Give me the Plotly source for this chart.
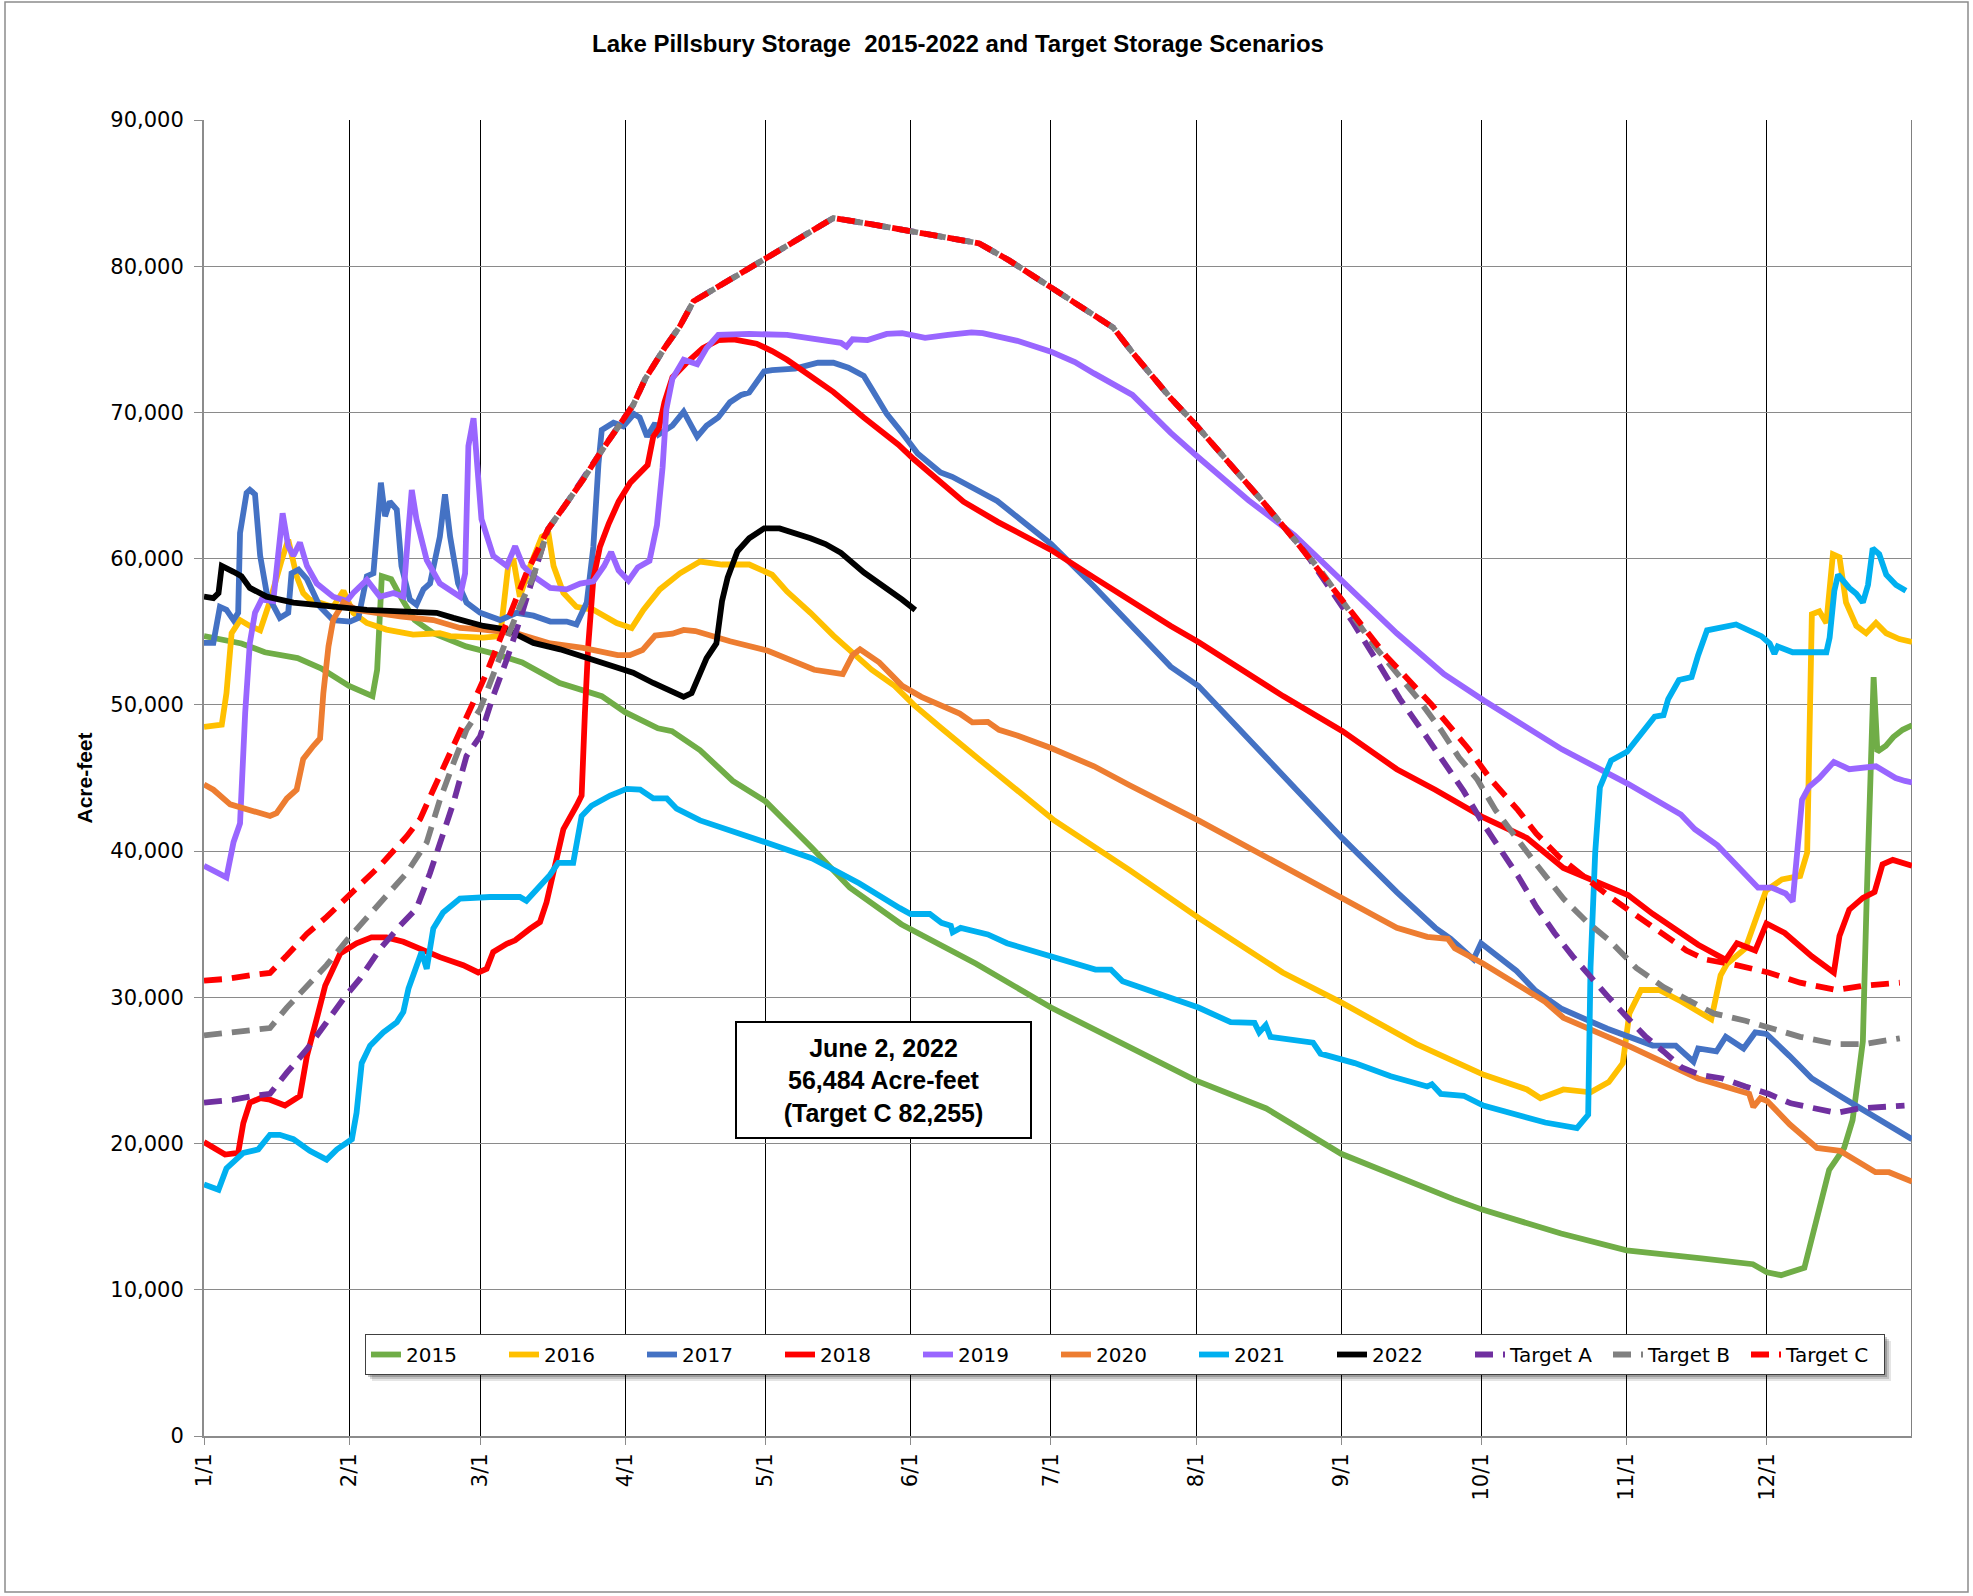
import plotly.graph_objects as go

# ---------------- data (day of year 0..365, acre-feet) ----------------
month_days = [0, 31, 59, 90, 120, 151, 181, 212, 243, 273, 304, 334]
month_labels = ["1/1", "2/1", "3/1", "4/1", "5/1", "6/1", "7/1", "8/1", "9/1", "10/1", "11/1", "12/1"]

d2015 = [0, 8, 13, 20, 25, 31, 36, 37, 38, 40, 42, 45, 49, 56, 62, 68, 76, 85, 90, 97, 100, 106, 113, 120, 130, 138, 149, 165, 181, 197, 212, 227, 243, 267, 273, 290, 304, 320, 331, 334, 337, 342, 344.5, 347.3, 350.5, 352.3, 353.5, 354.5, 355.3, 356.2, 356.8, 357.6, 359.4, 361, 363, 365]
v2015 = [54700, 54200, 53600, 53200, 52500, 51300, 50600, 52400, 58800, 58600, 57400, 55800, 54900, 54000, 53500, 52900, 51500, 50600, 49500, 48400, 48200, 46900, 44800, 43400, 40200, 37500, 35000, 32300, 29300, 26700, 24300, 22400, 19300, 16200, 15500, 13850, 12700, 12150, 11750, 11200, 11000, 11500, 14600, 18200, 19700, 21600, 24500, 27000, 36600, 48000, 51900, 46800, 47200, 47800, 48300, 48600]

d2016 = [0, 3.8, 4.8, 5.9, 7.7, 9.8, 12, 14, 16.5, 18, 19.8, 21.2, 22.6, 27.6, 29.8, 31.9, 34.8, 39, 44.7, 50.4, 52.6, 59.7, 63.3, 64.3, 65, 66.1, 67.5, 69.7, 72.2, 73.6, 74.7, 76.8, 79.6, 83.2, 88.2, 91.4, 93.9, 97.4, 101.7, 106, 110.7, 116.5, 121.4, 124.6, 129.6, 134.5, 139.4, 142.7, 147.6, 151.7, 157.4, 162.3, 166.7, 181.7, 197.8, 212.7, 230.5, 243.3, 259.1, 273.5, 282.7, 285.6, 290.5, 296.3, 300.2, 303.2, 304.6, 307.1, 311, 315.8, 319.7, 322.1, 324.1, 325.5, 329.4, 331.4, 333.8, 337.2, 341.1, 342.6, 343.6, 345.2, 346.7, 348.1, 349.5, 350.9, 353.1, 355.2, 357.3, 359.5, 362.3, 365]
v2016 = [48500, 48650, 50800, 54900, 55800, 55400, 55100, 57000, 59800, 61300, 58800, 57650, 57200, 56700, 57800, 56300, 55600, 55150, 54800, 54900, 54700, 54600, 54700, 57650, 59500, 60000, 57400, 59500, 61500, 61750, 59500, 57650, 56700, 56500, 55600, 55250, 56500, 57900, 59000, 59800, 59600, 59600, 58900, 57750, 56300, 54740, 53400, 52400, 51300, 50000, 48450, 47100, 46000, 42100, 38700, 35400, 31700, 29600, 26800, 24700, 23700, 23100, 23700, 23500, 24200, 25500, 28900, 30500, 30500, 29700, 28900, 28500, 31500, 32300, 33350, 35200, 37300, 38060, 38300, 39900, 56200, 56400, 55600, 60300, 60100, 57000, 55400, 54900, 55600, 54900, 54500, 54300]

d2017 = [0, 2, 3.4, 4.8, 6.3, 7.3, 7.7, 9.1, 9.8, 10.9, 12, 13.4, 16.2, 18, 18.7, 20.2, 22, 24.8, 27.6, 31.2, 33, 34.8, 36.2, 37.2, 37.8, 38.7, 39.7, 41.2, 42.2, 44, 45.4, 46.9, 48.3, 50.4, 51.5, 52.6, 54.3, 56.1, 59, 63.3, 66.8, 70.4, 74, 77.5, 79.6, 81.8, 83.2, 84.3, 85, 87.5, 89.6, 91.9, 93.1, 94.7, 96.4, 97.2, 100.1, 102.5, 105.4, 107.4, 109.9, 112.4, 114.8, 116.5, 119.7, 121.4, 126.3, 131.2, 134.5, 137.7, 141, 142.7, 145.9, 149.2, 152.5, 157.4, 159.9, 169.5, 181, 190.2, 198.4, 206.6, 212.5, 230.6, 243.3, 254.9, 263.1, 266.4, 271.3, 272.9, 280.5, 284.4, 290.2, 299.9, 309.6, 314.5, 318.3, 319.3, 323.2, 325.2, 329, 331.5, 333.9, 338.8, 343.6, 350.4, 358.2, 365]
v2017 = [54240, 54240, 56700, 56500, 55800, 56300, 61750, 64500, 64700, 64400, 60200, 57650, 55950, 56300, 59000, 59250, 58600, 56700, 55800, 55700, 55950, 58800, 59000, 63600, 65200, 62900, 63900, 63350, 59500, 57200, 56850, 57900, 58300, 61500, 64400, 61500, 58300, 57000, 56300, 55800, 56300, 56100, 55700, 55700, 55500, 57000, 60800, 66500, 68800, 69300, 69050, 69900, 69660, 68350, 69270, 68500, 69100, 70050, 68350, 69100, 69660, 70700, 71200, 71360, 72800, 72900, 73000, 73400, 73400, 73060, 72500, 71600, 69900, 68600, 67200, 65900, 65600, 63950, 61000, 58100, 55300, 52600, 51300, 45100, 40870, 37200, 34760, 34000, 32600, 33700, 31800, 30500, 29200, 27850, 26700, 26700, 25600, 26500, 26300, 27300, 26500, 27600, 27500, 26000, 24450, 23100, 21600, 20300]

d2018 = [0, 4.5, 7.3, 8.4, 9.8, 12, 14.1, 17.3, 20.5, 22, 23.7, 25.9, 29.1, 32.6, 35.8, 39, 42.6, 46.2, 50.4, 55.4, 58.6, 60.4, 61.8, 64.7, 66.5, 69.7, 71.8, 73.2, 74.6, 76.8, 79.6, 80.7, 81.4, 82.1, 83.2, 84.6, 86.5, 88.6, 91.1, 94.8, 96, 97.2, 98.4, 100.1, 103.3, 106.6, 109.9, 113.2, 118.1, 121.4, 124.6, 129.6, 134.5, 141, 148.4, 151.7, 157.4, 162.3, 169.7, 181, 190.2, 198.4, 206.6, 212.5, 230.6, 243.3, 254.9, 263.1, 273.4, 282.7, 290.5, 304.3, 309.6, 319.3, 325.2, 327.6, 331.5, 333.9, 337.8, 343.6, 348.3, 349.5, 351.6, 354.5, 357, 358.7, 360.9, 365]
v2018 = [20100, 19250, 19360, 21400, 22800, 23100, 23000, 22600, 23250, 26000, 28050, 30800, 33000, 33700, 34100, 34100, 33800, 33300, 32750, 32200, 31700, 31950, 33100, 33660, 33900, 34700, 35150, 36500, 38600, 41500, 43100, 43800, 49450, 54000, 58600, 60800, 62400, 63900, 65200, 66400, 68350, 68900, 70700, 72400, 73450, 74400, 74950, 75000, 74700, 74200, 73600, 72500, 71400, 69660, 67800, 66800, 65200, 63900, 62500, 60600, 58700, 57000, 55400, 54300, 50600, 48200, 45600, 44200, 42300, 40900, 38850, 37000, 35700, 33600, 32560, 33700, 33200, 35050, 34400, 32800, 31700, 34200, 36000, 36800, 37200, 39100, 39400, 39000]

d2019 = [0, 4.8, 6.3, 7.7, 8.8, 9.8, 10.9, 12.3, 14.8, 16.2, 16.8, 18, 19.1, 20.5, 22, 24.1, 27.6, 30.5, 31.9, 34.8, 37.6, 40.5, 42.6, 43.7, 44.4, 45.4, 47.6, 50.4, 54.7, 55.8, 56.5, 57.6, 58.3, 59.3, 61.8, 64.7, 66.5, 68.2, 70.4, 74, 77.5, 80.4, 83.2, 85.5, 87, 88.6, 90.7, 92.7, 95.2, 96.8, 98, 98.8, 100.1, 102.5, 105.4, 107.4, 109.9, 116.5, 124.6, 132.8, 136.1, 137.3, 138.6, 141.8, 145.9, 149.2, 154.1, 159, 164, 166.4, 173.8, 181, 186.1, 190.2, 198.4, 202.5, 206.6, 212.1, 223.2, 233, 243.3, 254.9, 265, 273.5, 290.2, 304.3, 315.6, 318.6, 323.4, 327.3, 332.1, 335, 338, 339.5, 341.5, 343, 345.2, 348.3, 351.6, 357.3, 361.5, 363.5, 365]
v2019 = [39000, 38200, 40600, 41900, 49450, 54240, 56300, 57200, 57100, 61300, 63100, 60850, 60200, 61100, 59500, 58300, 57400, 57100, 57650, 58550, 57400, 57650, 57400, 62000, 64700, 62700, 59900, 58300, 57400, 59000, 67700, 69600, 66300, 62700, 60200, 59500, 60850, 59500, 58800, 58000, 57900, 58300, 58450, 59500, 60450, 59200, 58500, 59400, 59850, 62300, 66250, 70200, 72300, 73600, 73300, 74400, 75300, 75370, 75300, 74950, 74760, 74500, 75000, 74950, 75370, 75420, 75100, 75300, 75470, 75420, 74900, 74160, 73450, 72670, 71200, 69900, 68600, 67040, 64000, 61600, 58500, 54900, 52100, 50300, 46960, 44600, 42500, 41500, 40400, 39100, 37500, 37500, 37100, 36550, 43500, 44400, 45000, 46100, 45600, 45800, 45000, 44800, 44700]

d2020 = [0, 2, 5.6, 9.8, 14.1, 15.5, 17.7, 19.8, 21.2, 23.4, 24.8, 25.5, 26.6, 27.6, 29.8, 32.6, 36.2, 41.9, 49, 54.7, 59.7, 66.8, 74, 81, 88.4, 91, 93.7, 96.4, 100.1, 102.5, 105, 112.4, 120.5, 126.3, 130.4, 136.5, 138.6, 140.2, 144.3, 149.2, 153.3, 161.5, 164.2, 167.5, 169.9, 173.8, 181, 190.2, 197.8, 212.7, 226.5, 243.5, 254.9, 261.4, 265.8, 267.3, 273.4, 286.6, 290.5, 304.3, 319.3, 330.2, 331.1, 332.6, 334.1, 338.9, 344.7, 349.6, 353.3, 357.2, 360.1, 365]
v2020 = [44560, 44200, 43200, 42850, 42400, 42600, 43600, 44200, 46300, 47200, 47700, 50800, 54000, 55800, 57000, 56500, 56300, 56060, 55800, 55260, 55150, 54900, 54200, 53900, 53400, 53400, 53750, 54740, 54870, 55130, 55050, 54350, 53700, 53000, 52400, 52100, 53400, 53800, 52900, 51300, 50550, 49400, 48800, 48840, 48300, 47900, 47050, 45800, 44500, 42070, 39680, 36700, 34760, 34140, 34000, 33350, 32300, 29700, 28600, 26700, 24450, 23400, 22500, 23100, 22900, 21300, 19700, 19500, 18800, 18040, 18040, 17400]

d2021 = [0, 3.1, 4.8, 8.4, 11.6, 14.1, 16.2, 19.1, 22.6, 26.2, 28.4, 31.6, 32.6, 33.7, 35.5, 38.3, 41.2, 42.6, 43.7, 45.4, 46.5, 47.6, 49, 51.1, 54.7, 61.1, 67.5, 68.9, 71.1, 73.9, 75.7, 78.9, 80.7, 82.8, 86.8, 90.3, 93.2, 96, 98.9, 101, 106, 110, 120, 130, 140, 148.7, 151, 155.1, 157.6, 159.6, 160, 161.7, 167.5, 171.6, 181, 190.5, 193.8, 196.3, 212.5, 219.4, 224.5, 225.5, 226.9, 227.9, 237, 238.6, 245.9, 253.6, 261.4, 262.4, 264.3, 269.2, 273.4, 280.8, 286.6, 293.4, 295.8, 296.3, 297.3, 298.3, 300.7, 304.1, 306.1, 308.5, 310, 311.9, 312.9, 315.2, 317.9, 319.3, 321.2, 327.4, 332.8, 334.6, 335.6, 336.3, 339.5, 346.7, 347.4, 348.4, 349.2, 351.6, 353.1, 354.5, 355.6, 356.6, 358, 359.5, 361.6, 363.7]
v2021 = [17200, 16840, 18300, 19360, 19600, 20600, 20600, 20300, 19500, 18900, 19600, 20300, 22100, 25500, 26700, 27600, 28300, 29000, 30600, 32200, 33100, 31950, 34700, 35800, 36750, 36860, 36860, 36600, 37400, 38350, 39200, 39200, 42400, 43100, 43800, 44260, 44200, 43600, 43600, 42900, 42100, 41700, 40600, 39500, 37800, 36100, 35700, 35700, 35100, 34900, 34450, 34750, 34300, 33700, 32800, 31900, 31900, 31100, 29300, 28300, 28250, 27600, 28100, 27300, 26900, 26150, 25500, 24600, 23900, 24050, 23400, 23270, 22600, 22000, 21440, 21050, 21970, 32040, 39900, 44350, 46200, 46800, 47600, 48500, 49200, 49300, 50400, 51700, 51900, 53400, 55100, 55500, 54700, 54200, 53500, 54000, 53600, 53600, 54600, 57800, 58900, 58000, 57600, 57000, 58200, 60700, 60300, 58900, 58200, 57800]

d2022 = [0, 2, 3.1, 3.8, 6.3, 8, 9.8, 13.4, 19.1, 27.6, 34.8, 41.9, 49.7, 53.3, 59.7, 64.7, 70.4, 76.1, 81, 88.2, 91.7, 96, 98.9, 102.5, 104.2, 105.8, 107.4, 109.5, 110.7, 111.9, 114, 116.5, 119.7, 123, 127.1, 129.6, 132.8, 136.1, 141, 145.9, 149.2, 152]
v2022 = [57400, 57300, 57650, 59500, 59100, 58800, 58000, 57400, 57000, 56700, 56500, 56400, 56300, 55950, 55400, 55150, 54240, 53800, 53300, 52600, 52200, 51500, 51050, 50550, 50800, 52100, 53200, 54200, 57100, 58700, 60500, 61400, 62070, 62070, 61700, 61400, 61000, 60400, 59060, 58000, 57200, 56484]

# Target scenarios: spring fill (separate), shared summer path, autumn draw-down (separate)
dA_spring = [0, 6.3, 10.5, 14.1, 17.7, 22, 26.2, 29.8, 33.3, 37.6, 41.9, 45.4, 48.3, 50.4, 53.3, 56.1, 59, 61.8, 64.7, 67.5, 70.4]
vA_spring = [22800, 23000, 23250, 23400, 24850, 26450, 28300, 29900, 31260, 33300, 34900, 36060, 38500, 40600, 43300, 46500, 47850, 50600, 53100, 55800, 58800]
dB_spring = [0, 6.3, 10.5, 14.1, 17.7, 22, 26.2, 30.5, 34.8, 39, 43.3, 47.6, 50.4, 53.3, 56.1, 59, 61.8, 64.7, 67.5, 70.4]
vB_spring = [27400, 27600, 27700, 27900, 29300, 30800, 32200, 33900, 35400, 37000, 38500, 40600, 43500, 46000, 48300, 49700, 52200, 54500, 56750, 58800]
dC_spring = [0, 4.8, 9.8, 14.1, 17.7, 22, 26.2, 29.8, 33.3, 37.6, 43.3, 46.2, 49, 51.9, 54.7, 58.3, 60.4, 63.3, 66.1, 68.9]
vC_spring = [31140, 31260, 31500, 31670, 32860, 34350, 35500, 36600, 37800, 39000, 41000, 42200, 44200, 46300, 48100, 50700, 52200, 54500, 56700, 59000]

d_target_common = [73.5, 77.5, 81, 84.6, 88.2, 91.7, 94.3, 98.4, 101.7, 104.6, 108.3, 113.2, 118.1, 124.6, 129.6, 134.5, 141, 151.1, 157.4, 165.6, 172.1, 181, 190.2, 194.3, 198.4, 202.5, 206.6, 212.1, 219, 226]
v_target_common = [62000, 63800, 65400, 67200, 68900, 70500, 72300, 74400, 75900, 77600, 78300, 79200, 80100, 81400, 82360, 83300, 82960, 82360, 81960, 81570, 80390, 78560, 76700, 75800, 74100, 72500, 70970, 69100, 66600, 64000]

dA_fall = [235.4, 245.2, 251.8, 255.6, 261.4, 265.3, 269.2, 273.1, 277, 280.8, 284.7, 288.6, 292.5, 296.4, 300.3, 304.2, 308.1, 311.9, 315.8, 319.7, 324.5, 329.4, 334.3, 339.1, 344, 348.8, 353.7, 363.4]
vA_fall = [60400, 55800, 52400, 50400, 47750, 45900, 44100, 42000, 40200, 38300, 36200, 34400, 32800, 31300, 29950, 28600, 27300, 26300, 25200, 24700, 24450, 23900, 23400, 22750, 22400, 22100, 22400, 22600]
dB_fall = [238.8, 250.2, 259.5, 264.3, 268.2, 272.1, 276, 280.8, 284.7, 290.5, 295.4, 300.3, 306.1, 311.9, 317.8, 322.6, 329.4, 335.2, 341.1, 348.8, 354.7, 362.4]
vB_fall = [59100, 54000, 50400, 48300, 46400, 44900, 42800, 40700, 39100, 36750, 35200, 33900, 32000, 30700, 29700, 28900, 28400, 27850, 27300, 26800, 26800, 27200]
dC_fall = [233.8, 243.5, 252.6, 262.4, 270.2, 275, 280.8, 284.7, 289.6, 300.3, 306.1, 311.9, 316.8, 320.7, 327.5, 334.3, 341.1, 348.8, 354.7, 362.4]
vC_fall = [61000, 57000, 53350, 50000, 47000, 44900, 42800, 41200, 39600, 36900, 35600, 34400, 33200, 32600, 32200, 31700, 31000, 30500, 30800, 31000]

annotation_text = "June 2, 2022<br>56,484 Acre-feet<br>(Target C 82,255)"

# ---------------- figure ----------------
W, H = 1973, 1596
L, R, T, B = 204, 61, 120, 160
PW, PH = W - L - R, H - T - B

def px_x(p):
    return (p - L) / PW

def px_y(p):
    return (H - B - p) / PH

series = [
    ("2015", d2015, v2015, "#70AD47", "solid"),
    ("2016", d2016, v2016, "#FFC000", "solid"),
    ("2017", d2017, v2017, "#4472C4", "solid"),
    ("2018", d2018, v2018, "#FF0000", "solid"),
    ("2019", d2019, v2019, "#9966FF", "solid"),
    ("2020", d2020, v2020, "#ED7D31", "solid"),
    ("2021", d2021, v2021, "#00B0F0", "solid"),
    ("2022", d2022, v2022, "#000000", "solid"),
    ("Target A", dA_spring + d_target_common + dA_fall, vA_spring + v_target_common + vA_fall, "#7030A0", "18px,10px"),
    ("Target B", dB_spring + d_target_common + dB_fall, vB_spring + v_target_common + vB_fall, "#808080", "18px,10px"),
    ("Target C", dC_spring + d_target_common + dC_fall, vC_spring + v_target_common + vC_fall, "#FF0000", "18px,10px"),
]

fig = go.Figure()
for name, xs, ys, color, dash in series:
    assert len(xs) == len(ys), name
    fig.add_trace(go.Scatter(
        x=xs, y=ys, name=name, mode="lines",
        line=dict(color=color, width=5.8, dash=dash),
    ))

tick_font = dict(family="DejaVu Sans", size=21, color="black")

fig.update_layout(
    width=W, height=H, autosize=False,
    margin=dict(l=L, r=R, t=T, b=B, pad=0),
    paper_bgcolor="white", plot_bgcolor="white",
    title=dict(
        text="Lake Pillsbury Storage  2015-2022 and Target Storage Scenarios",
        font=dict(family="Liberation Sans, Arial", size=24, color="black", weight="bold"),
        x=958 / W, xref="container", xanchor="center",
        y=1 - 44 / H, yref="container", yanchor="middle",
    ),
    xaxis=dict(
        range=[0, 365], tickvals=month_days, ticktext=month_labels,
        tickangle=-90, tickfont=tick_font,
        showgrid=True, gridcolor="#000000", gridwidth=1,
        showline=True, linecolor="#8c8c8c", linewidth=2,
        ticks="outside", ticklen=7, tickcolor="#8c8c8c", tickwidth=1,
        zeroline=False,
    ),
    yaxis=dict(
        range=[0, 90000], dtick=10000, tickformat=",",
        tickfont=tick_font,
        showgrid=True, gridcolor="#8a8a8a", gridwidth=1,
        showline=True, linecolor="#8c8c8c", linewidth=2,
        ticks="outside", ticklen=8, tickcolor="#8c8c8c", tickwidth=1,
        ticklabelstandoff=6,
        zeroline=False,
        title=dict(text="Acre-feet", standoff=12,
                   font=dict(family="Liberation Sans, Arial", size=21, color="black", weight="bold")),
    ),
    legend=dict(
        orientation="h", x=px_x(365), y=px_y(1334), xanchor="left", yanchor="top",
        bgcolor="white", bordercolor="#404040", borderwidth=1,
        font=dict(family="DejaVu Sans", size=20, color="black"),
        entrywidth=93, entrywidthmode="pixels", itemwidth=30,
        traceorder="normal",
    ),
    showlegend=True,
)

# right plot edge (12/31) line
fig.add_shape(type="line", xref="x", yref="paper", x0=365, x1=365, y0=0, y1=1,
              line=dict(color="black", width=1), layer="below")
# outer chart border
fig.add_shape(type="rect", xref="paper", yref="paper",
              x0=px_x(5), x1=px_x(1968), y0=px_y(1592), y1=px_y(2),
              line=dict(color="#8c8c8c", width=1.5), fillcolor="rgba(0,0,0,0)", layer="below")
# soft drop shadow behind the legend box
for off, col in [(7, "rgba(0,0,0,0.10)"), (5, "rgba(0,0,0,0.15)"), (3, "rgba(0,0,0,0.20)")]:
    fig.add_shape(type="rect", xref="paper", yref="paper",
                  x0=px_x(365 + off), x1=px_x(1884 + off),
                  y0=px_y(1374 + off), y1=px_y(1334 + off),
                  line=dict(width=0), fillcolor=col, layer="above")

# annotation box centred on its data position
fig.add_annotation(
    x=145.2, y=24350, xref="x", yref="y", text=annotation_text, showarrow=False,
    font=dict(family="Liberation Sans, Arial", size=25, color="black", weight="bold"),
    bgcolor="white", bordercolor="black", borderwidth=2, borderpad=4,
    width=285, height=106, align="center", valign="middle",
)

fig.write_html("out.html", config={"displayModeBar": False},
               post_script="document.body.style.margin='0px';")
